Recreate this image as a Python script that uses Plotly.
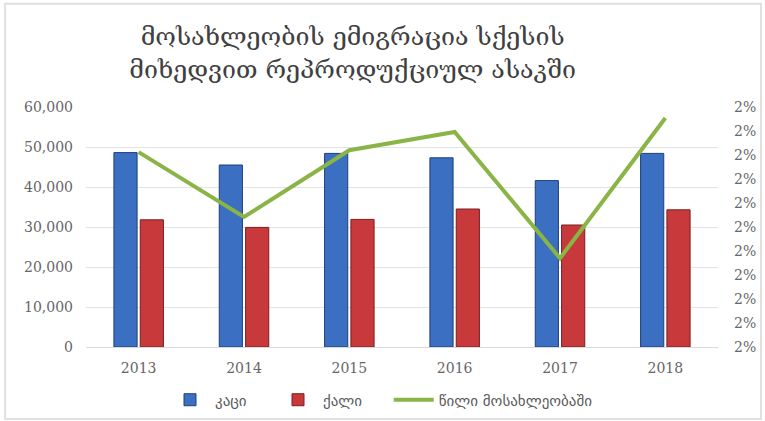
import plotly.graph_objects as go

years = ["2013", "2014", "2015", "2016", "2017", "2018"]
men = [48600, 45500, 48400, 47300, 41600, 48400]
women = [31800, 29900, 31900, 34500, 30500, 34300]
share = [0.02006, 0.01871, 0.02010, 0.02048, 0.01785, 0.02077]

title_text = "მოსახლეობის ემიგრაცია სქესის<br>მიხედვით რეპროდუქციულ ასაკში"
names = ["კაცი", "ქალი", "წილი მოსახლეობაში"]

fig = go.Figure()
fig.add_trace(go.Bar(x=years, y=men, name=names[0],
                     marker=dict(color="#3B6FC2", line=dict(color="#1F3F7A", width=1))))
fig.add_trace(go.Bar(x=years, y=women, name=names[1],
                     marker=dict(color="#C8393B", line=dict(color="#7A1E20", width=1))))
fig.add_trace(go.Scatter(x=years, y=share, name=names[2], yaxis="y2", mode="lines",
                         line=dict(color="#8AB446", width=4), legend="legend2"))

tickfont = dict(family="DejaVu Serif", size=14, color="#666666")
legfont = dict(family="DejaVu Sans", size=15, color="#595959")
fig.update_layout(
    width=765, height=421,
    margin=dict(l=86, r=47, t=107, b=74, autoexpand=False),
    paper_bgcolor="white", plot_bgcolor="white",
    title=dict(text=title_text, x=0.461, xanchor="center", y=0.893, yanchor="top",
               font=dict(family="DejaVu Serif", size=25, color="#404040")),
    barmode="group", bargap=0.5, bargroupgap=0.12,
    xaxis=dict(showgrid=False, tickfont=tickfont, showline=True, linecolor="#d9d9d9",
               ticks="", automargin=False, ticklabelstandoff=8),
    yaxis=dict(range=[0, 60000], dtick=10000, tickformat=",d", gridcolor="#e3e3e3",
               zeroline=False, tickfont=tickfont, showline=False, automargin=False,
               ticklabelstandoff=12),
    yaxis2=dict(overlaying="y", side="right", range=[0.016, 0.021], dtick=0.0005,
                tickformat=".0%", showgrid=False, zeroline=False, tickfont=tickfont,
                automargin=False, ticklabelstandoff=15),
    legend=dict(orientation="h", x=0.125, xanchor="left", y=-0.152, yanchor="top",
                font=legfont, itemwidth=40, entrywidth=53),
    legend2=dict(orientation="h", x=0.479, xanchor="left", y=-0.152, yanchor="top",
                 font=legfont, itemwidth=40),
    shapes=[dict(type="rect", xref="paper", yref="paper", x0=-0.128, x1=1.068, y0=-0.3, y1=1.43,
                 line=dict(color="#e0e0e0", width=2))],
)
fig.write_html("out.html", config={"displayModeBar": False},
               post_script="document.body.style.margin='0';")
